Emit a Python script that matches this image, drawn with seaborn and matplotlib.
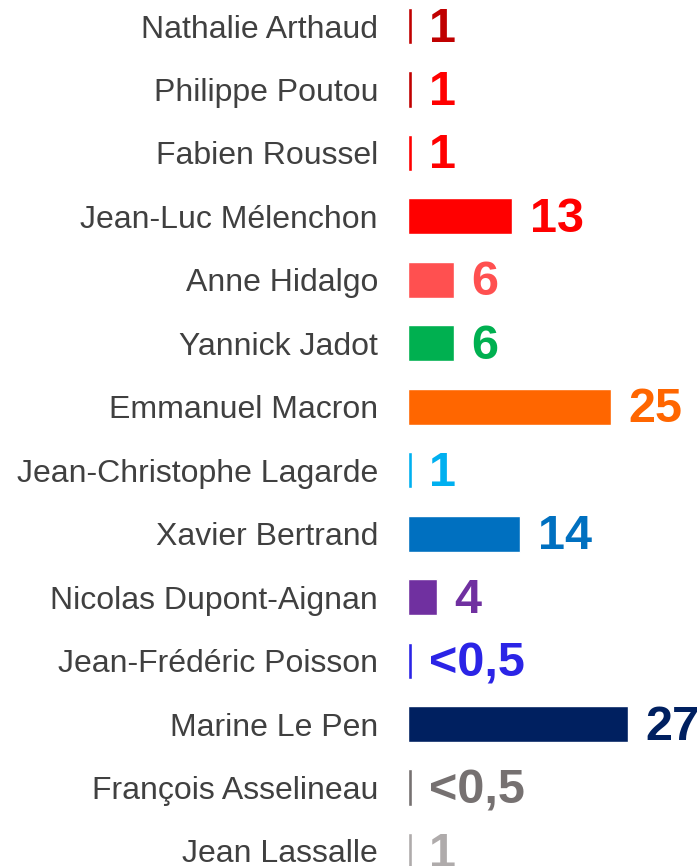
import matplotlib
matplotlib.use("Agg")
import matplotlib.pyplot as plt
import pandas as pd
import seaborn as sns

candidates = [
    "Nathalie Arthaud", "Philippe Poutou", "Fabien Roussel", "Jean-Luc Mélenchon",
    "Anne Hidalgo", "Yannick Jadot", "Emmanuel Macron", "Jean-Christophe Lagarde",
    "Xavier Bertrand", "Nicolas Dupont-Aignan", "Jean-Frédéric Poisson",
    "Marine Le Pen", "François Asselineau", "Jean Lassalle",
]
# longueur des barres (estimée) et libellés affichés
scores = [0.5, 0.5, 0.5, 12.8, 5.6, 5.6, 24.9, 0.5, 13.8, 3.6, 0.5, 27.0, 0.5, 0.5]
score_labels = ["1", "1", "1", "13", "6", "6", "25", "1", "14", "4", "<0,5", "27", "<0,5", "1"]
bar_colors = [
    "#C00000", "#C00000", "#FF0000", "#FF0000", "#FF5050", "#00B050", "#FF6600",
    "#00B0F0", "#0070C0", "#7030A0", "#2B24E6", "#002060", "#767171", "#AFABAB",
]
label_colors = [
    "#C00000", "#FF0000", "#FF0000", "#FF0000", "#FF5050", "#00B050", "#FF6600",
    "#00B0F0", "#0070C0", "#7030A0", "#2B24E6", "#002060", "#767171", "#AFABAB",
]

df = pd.DataFrame({"candidat": candidates, "score": scores})

sns.set_style("white")
plt.rcParams["font.family"] = ["Liberation Sans", "DejaVu Sans"]

fig = plt.figure(figsize=(7, 8.66), dpi=100)
ax = fig.add_axes([408 / 700, 0, 292 / 700, 1])

sns.barplot(data=df, x="score", y="candidat", hue="candidat", palette=bar_colors,
            orient="h", width=0.57, legend=False, saturation=1, ax=ax)

ax.set_xlim(0, 292 / 8.15)
ax.set_ylim(13 + 15 / 63.46, -26 / 63.46)

for i, (v, lab) in enumerate(zip(scores, score_labels)):
    ax.annotate(lab, xy=(v, i), xytext=(12.5, -2.2), textcoords="offset points",
                ha="left", va="center", fontsize=35, fontweight="bold",
                color=label_colors[i])

ax.set_xlabel("")
ax.set_ylabel("")
ax.set_xticks([])
ax.tick_params(axis="y", length=0, pad=21.6, labelsize=23, labelcolor="#404040")
sns.despine(ax=ax, left=True, bottom=True)

fig.savefig("out.png", dpi=100)
